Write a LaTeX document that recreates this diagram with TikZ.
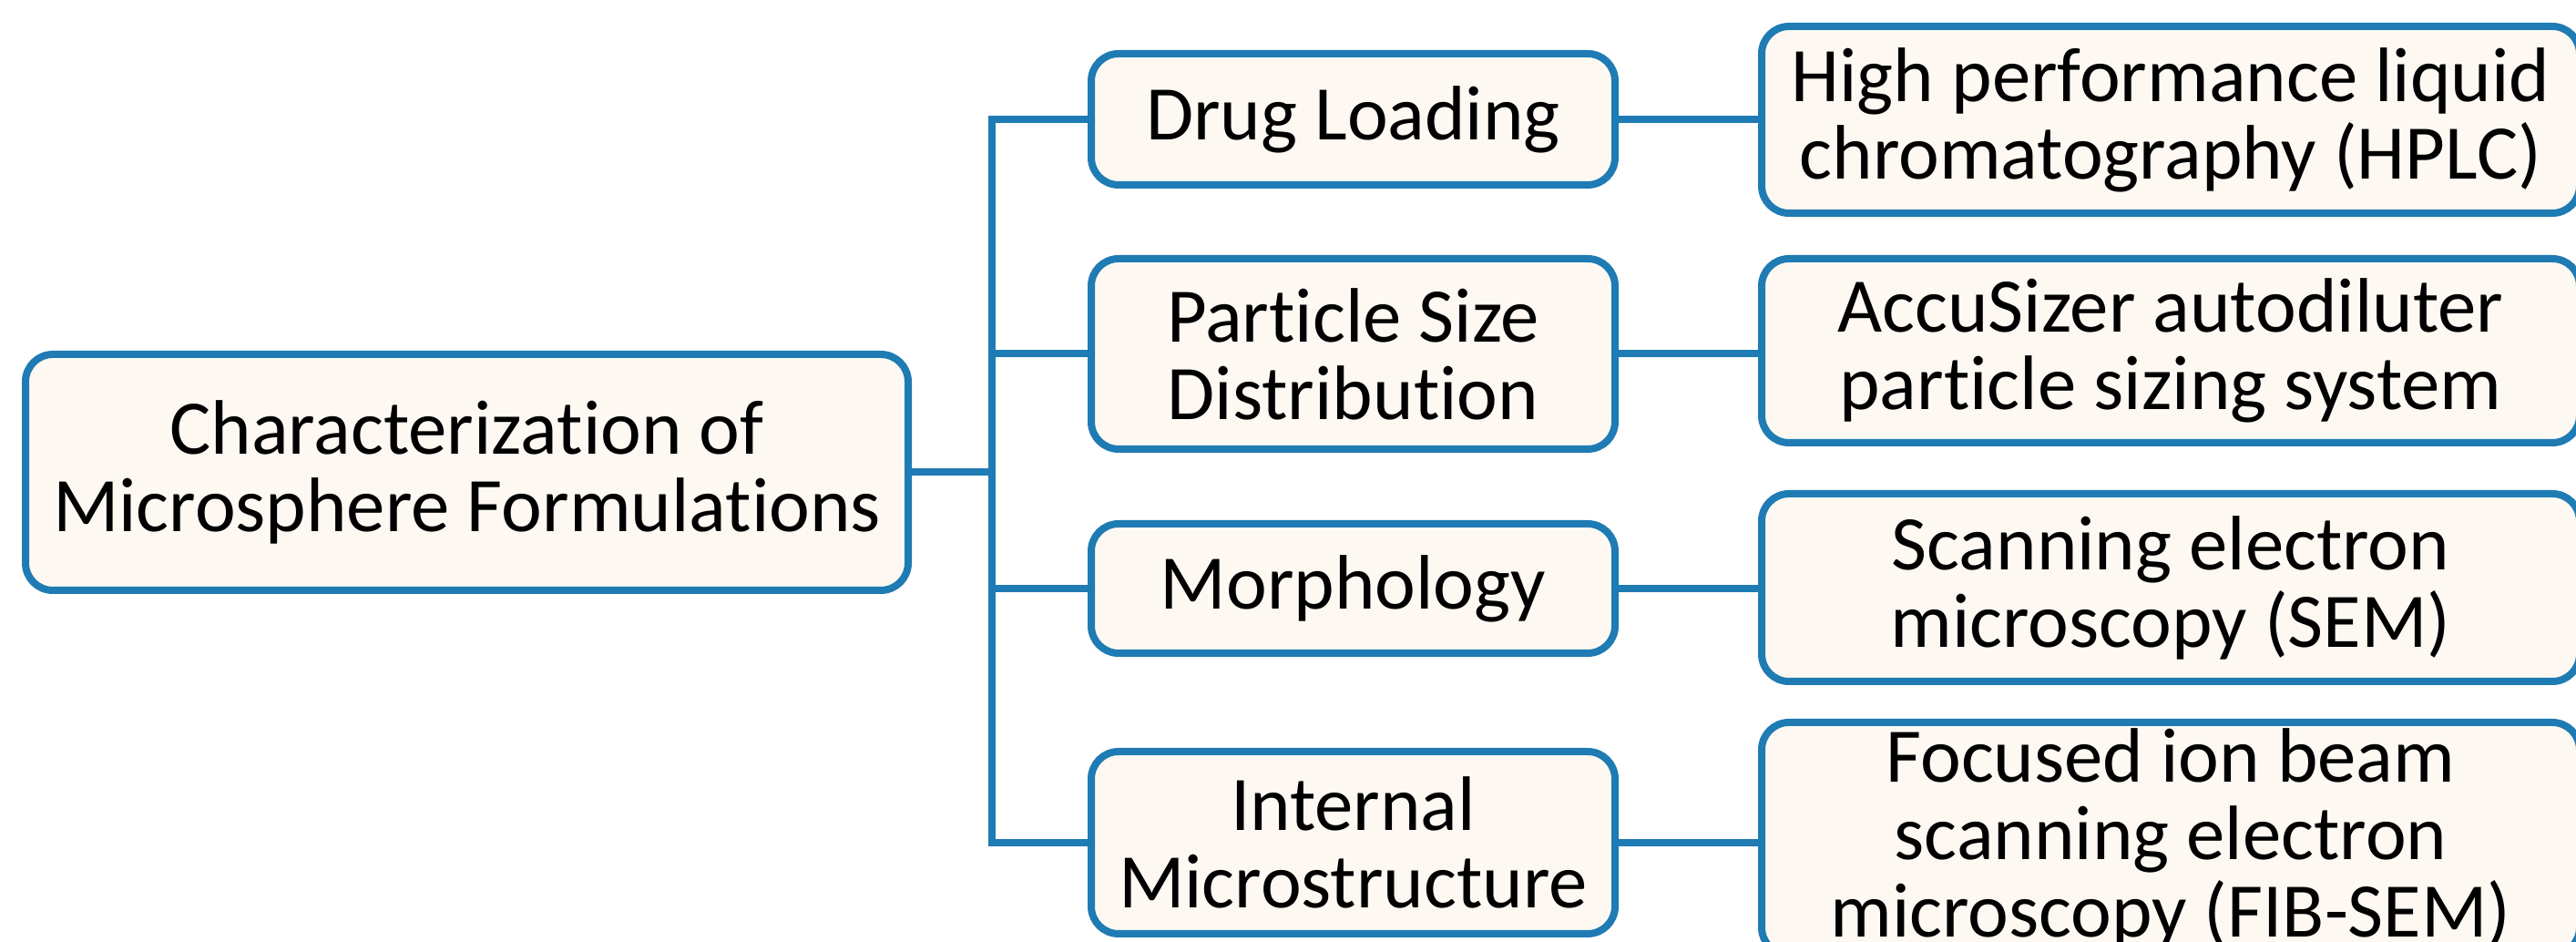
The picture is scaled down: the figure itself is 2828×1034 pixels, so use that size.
\documentclass[tikz,border=0pt]{standalone}
\usepackage{fontspec}
\setmainfont{Carlito}[RawFeature={-liga;-clig;-dlig}]
\definecolor{boxblue}{RGB}{31,123,179}
\definecolor{boxfill}{RGB}{253,249,242}
\begin{document}
\begin{tikzpicture}[x=0.25pt,y=-0.25pt,
  box/.style={draw=boxblue, fill=boxfill, line width=2pt, rounded corners=7.5pt,
    inner sep=0pt, align=center, font=\fontsize{21.2}{21.25}\selectfont},
  mainbox/.style={box, minimum width=242.25pt, minimum height=64.75pt},
  midbox/.style={box, minimum width=143.75pt},
  rightbox/.style={box, minimum width=224.5pt},
  link/.style={draw=boxblue, line width=2pt}]
\useasboundingbox (0,0) rectangle (2828,1034);
\node[mainbox] (main) at (512.5,518.5) {Characterization of\\Microsphere Formulations};
\node[midbox, minimum height=36pt] (m1) at (1485.5,131) {Drug Loading};
\node[midbox, minimum height=52.25pt] (m2) at (1485.5,388.5) {Particle Size\\Distribution};
\node[midbox, minimum height=35.5pt] (m3) at (1485.5,646) {Morphology};
\node[midbox, minimum height=50pt] (m4) at (1485.5,925) {Internal\\Microstructure};
\node[rightbox, minimum height=51.25pt] (r1) at (2383,131.5) {High performance liquid\\chromatography (HPLC)};
\node[rightbox, minimum height=50.5pt] (r2) at (2383,385) {AccuSizer autodiluter\\particle sizing system};
\node[rightbox, minimum height=51.5pt] (r3) at (2383,645) {Scanning electron\\microscopy (SEM)};
\node[rightbox, minimum height=63.75pt] (r4) at (2383,920.5) {Focused ion beam\\scanning electron\\microscopy (FIB-SEM)};
\coordinate (ttop) at (1089,131);
\coordinate (tbot) at (1089,925);
\coordinate (tmain) at (1089,518.5);
\draw[link, line cap=rect] (ttop) -- (tbot);
\draw[link] (main.east) -- (tmain);
\draw[link] (ttop) -- (m1.west);
\draw[link] (m2.west -| ttop) -- (m2.west);
\draw[link] (m3.west -| ttop) -- (m3.west);
\draw[link] (tbot) -- (m4.west);
\draw[link] (m1.east) -- (m1.east -| r1.west);
\draw[link] (m2.east) -- (m2.east -| r2.west);
\draw[link] (m3.east) -- (m3.east -| r3.west);
\draw[link] (m4.east) -- (m4.east -| r4.west);
\end{tikzpicture}
\end{document}
